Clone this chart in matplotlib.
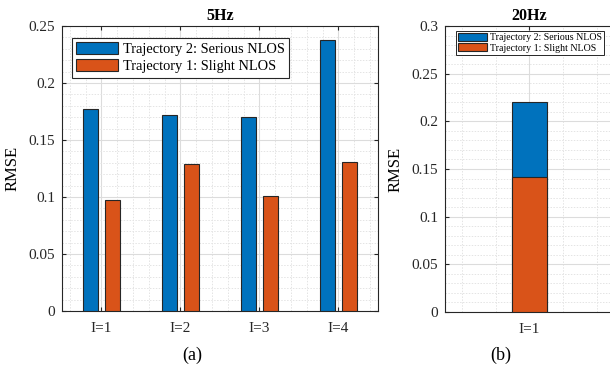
import matplotlib
matplotlib.use("Agg")
import matplotlib.pyplot as plt
from matplotlib.ticker import MultipleLocator
import numpy as np

# ── data ─────────────────────────────────────────────────────────────────────
groups_5hz = ["I=1", "I=2", "I=3", "I=4"]
serious_5hz = [0.1775, 0.1722, 0.1700, 0.2375]   # Trajectory 2
slight_5hz = [0.0975, 0.1290, 0.1005, 0.1305]    # Trajectory 1

groups_20hz = ["I=1"]
serious_20hz = [0.2200]
slight_20hz = [0.1415]

LBL_SERIOUS = "Trajectory 2: Serious NLOS"
LBL_SLIGHT = "Trajectory 1: Slight NLOS"

# ── style ────────────────────────────────────────────────────────────────────
C_BLUE = "#0072BD"
C_ORANGE = "#D95319"
AX_COL = "#262626"

plt.rcParams.update({
    "font.family": ["Liberation Serif", "DejaVu Serif"],
    "font.size": 11,
    "axes.edgecolor": AX_COL,
    "axes.linewidth": 0.8,
    "xtick.direction": "in",
    "ytick.direction": "in",
    "xtick.major.size": 3,
    "ytick.major.size": 3,
    "xtick.minor.size": 0,
    "ytick.minor.size": 0,
    "xtick.top": True,
    "ytick.right": True,
    "xtick.color": AX_COL,
    "ytick.color": AX_COL,
})


def style_axes(ax):
    ax.set_axisbelow(True)
    ax.grid(which="major", color="#DCDCDC", linewidth=0.8, linestyle="-")
    ax.grid(which="minor", color="#E4E4E4", linewidth=0.7, linestyle=(0, (1.5, 1.5)))
    ax.tick_params(labelsize=11)
    ax.tick_params(axis="x", pad=8)
    ax.tick_params(axis="y", pad=5)


fig = plt.figure(figsize=(6.1, 3.66), dpi=100)

# ── (a) 5Hz grouped bars ─────────────────────────────────────────────────────
ax1 = fig.add_axes([0.1016, 0.1503, 0.518, 0.7787])
x = np.arange(1, len(groups_5hz) + 1)
w = 0.18
ax1.bar(x - 0.14, serious_5hz, w, color=C_BLUE, edgecolor=AX_COL,
        linewidth=0.8, label=LBL_SERIOUS, zorder=3)
ax1.bar(x + 0.14, slight_5hz, w, color=C_ORANGE, edgecolor=AX_COL,
        linewidth=0.8, label=LBL_SLIGHT, zorder=3)
ax1.set_xlim(0.5, 4.5)
ax1.set_ylim(0, 0.25)
ax1.set_xticks(x)
ax1.set_xticklabels(groups_5hz)
ax1.set_yticks([0, 0.05, 0.1, 0.15, 0.2, 0.25])
ax1.set_yticklabels(["0", "0.05", "0.1", "0.15", "0.2", "0.25"])
ax1.xaxis.set_minor_locator(MultipleLocator(0.2))
ax1.yaxis.set_minor_locator(MultipleLocator(0.01))
style_axes(ax1)
ax1.set_ylabel("RMSE", fontsize=12, labelpad=6)
ax1.set_title("5Hz", fontsize=11.5, fontweight="bold", pad=4)
leg1 = ax1.legend(loc="upper left", bbox_to_anchor=(72 / 610, 1 - 38 / 366),
                  bbox_transform=fig.transFigure, fontsize=10.4, fancybox=False,
                  framealpha=1, edgecolor=AX_COL, borderaxespad=0, borderpad=0.3,
                  handlelength=2.9, handleheight=0.9, handletextpad=0.3,
                  labelspacing=0.2)
leg1.get_frame().set_linewidth(0.8)

# ── (b) 20Hz bar ─────────────────────────────────────────────────────────────
ax2 = fig.add_axes([0.7295, 0.1475, 0.277, 0.7814])
x2 = np.arange(1, len(groups_20hz) + 1)
w2 = 0.205
ax2.bar(x2, serious_20hz, w2, color=C_BLUE, edgecolor=AX_COL,
        linewidth=0.8, label=LBL_SERIOUS, zorder=3)
ax2.bar(x2, slight_20hz, w2, color=C_ORANGE, edgecolor=AX_COL,
        linewidth=0.8, label=LBL_SLIGHT, zorder=4)
ax2.set_xlim(0.5, 1.5)
ax2.set_ylim(0, 0.3)
ax2.set_xticks(x2)
ax2.set_xticklabels(groups_20hz)
ax2.set_yticks([0, 0.05, 0.1, 0.15, 0.2, 0.25, 0.3])
ax2.set_yticklabels(["0", "0.05", "0.1", "0.15", "0.2", "0.25", "0.3"])
ax2.xaxis.set_minor_locator(MultipleLocator(0.2))
ax2.yaxis.set_minor_locator(MultipleLocator(0.01))
style_axes(ax2)
ax2.set_ylabel("RMSE", fontsize=12, labelpad=6)
ax2.set_title("20Hz", fontsize=11.5, fontweight="bold", pad=4)
leg2 = ax2.legend(loc="upper left", bbox_to_anchor=(456 / 610, 1 - 31 / 366),
                  bbox_transform=fig.transFigure, fontsize=7.1, fancybox=False,
                  framealpha=1, edgecolor=AX_COL, borderaxespad=0, borderpad=0.2,
                  handlelength=2.9, handleheight=0.85, handletextpad=0.3,
                  labelspacing=0.1)
leg2.get_frame().set_linewidth(0.7)

fig.text(192 / 610, 1 - 355 / 366, "(a)", ha="center", va="center", fontsize=13)
fig.text(501 / 610, 1 - 355 / 366, "(b)", ha="center", va="center", fontsize=13)

fig.savefig("out.png", dpi=100)
